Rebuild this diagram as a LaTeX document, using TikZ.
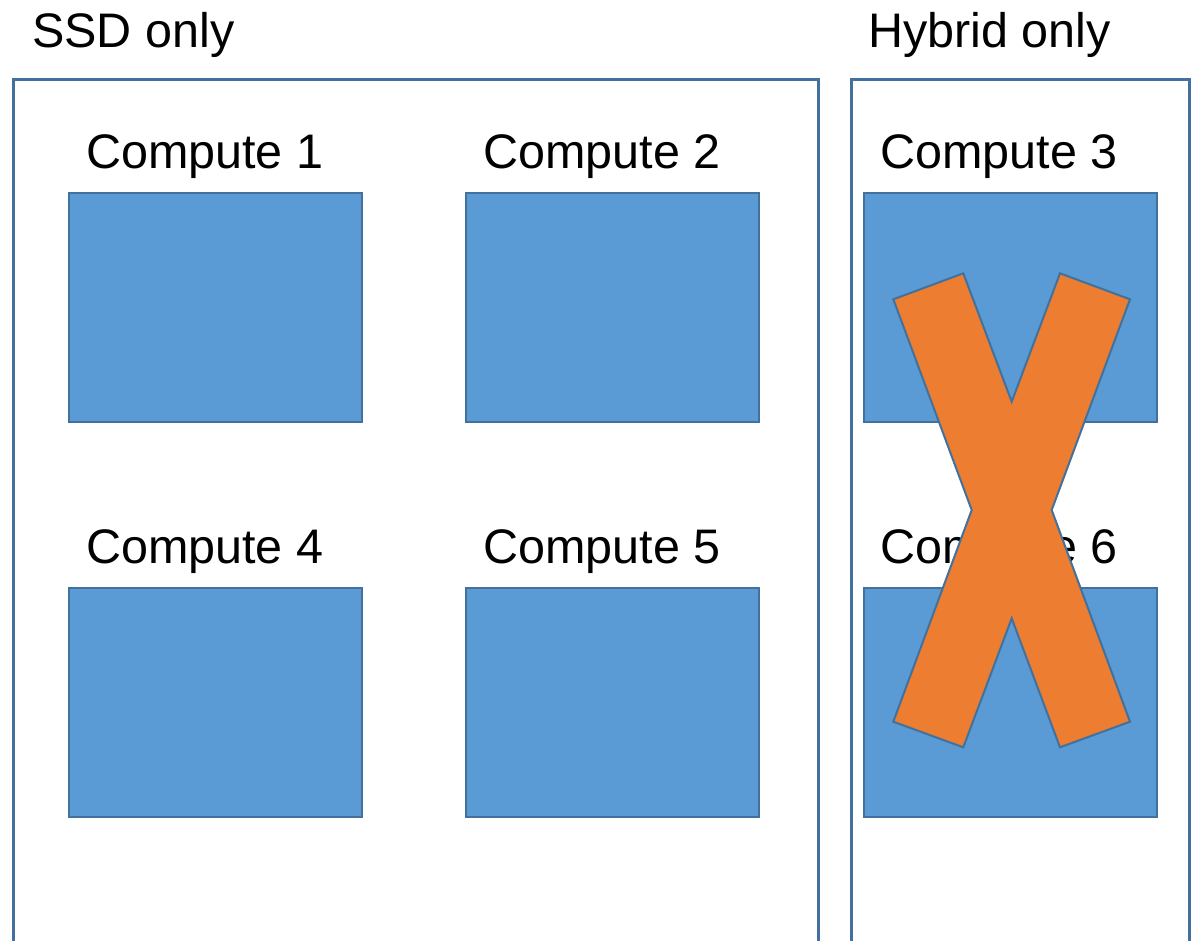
\documentclass[tikz,border=0pt]{standalone}
\usepackage{fontspec}
\setmainfont{Liberation Sans}
\definecolor{edgeblue}{RGB}{65,113,156}
\definecolor{fillblue}{RGB}{91,155,213}
\definecolor{crossorange}{RGB}{237,125,49}
\tikzset{
  group/.style={draw=edgeblue, line width=3pt},
  server/.style={draw=edgeblue, fill=fillblue, line width=2pt,
    minimum width=293pt, minimum height=229pt, anchor=north west,
    inner sep=0pt, outer sep=0pt},
  lbl/.style={anchor=base west, inner sep=0pt, font=\fontsize{48.5}{58}\selectfont},
  cross/.style={draw=edgeblue, fill=crossorange, line width=2pt, line join=miter}
}
\begin{document}
\begin{tikzpicture}[x=1pt, y=-1pt]
  \useasboundingbox (0,0) rectangle (1202,940);
  \clip (0,0) rectangle (1202,940);

  % group frames, open at the bottom
  \draw[group] (13,950) -- (13,79) -- (818,79) -- (818,950);
  \draw[group] (851,950) -- (851,79) -- (1189,79) -- (1189,950);

  % group titles
  \node[lbl] (tssd) at (32,47) {SSD only};
  \node[lbl] (thyb) at (868,47) {Hybrid only};

  % compute hosts
  \node[server] (c1) at (69,193) {};
  \node[server] (c2) at (466,193) {};
  \node[server] (c3) at (864,193) {};
  \node[server] (c4) at (69,588) {};
  \node[server] (c5) at (466,588) {};
  \node[server] (c6) at (864,588) {};

  % host labels
  \node[lbl] (l1) at (86,168) {Compute 1};
  \node[lbl] (l2) at (483,168) {Compute 2};
  \node[lbl] (l3) at (880,168) {Compute 3};
  \node[lbl] (l4) at (86,563) {Compute 4};
  \node[lbl] (l5) at (483,563) {Compute 5};
  \node[lbl] (l6) at (880,563) {Compute 6};

  % cross over the hybrid hosts
  \draw[cross] (893.3,299.3) -- (963.3,273.3) -- (1011.7,401.7) -- (1060,273.3)
    -- (1130,299.3) -- (1051.7,510) -- (1130,721.7) -- (1060,747.3)
    -- (1011.7,618.3) -- (963.3,747.3) -- (893.3,721.7) -- (971.7,510) -- cycle;
\end{tikzpicture}
\end{document}
